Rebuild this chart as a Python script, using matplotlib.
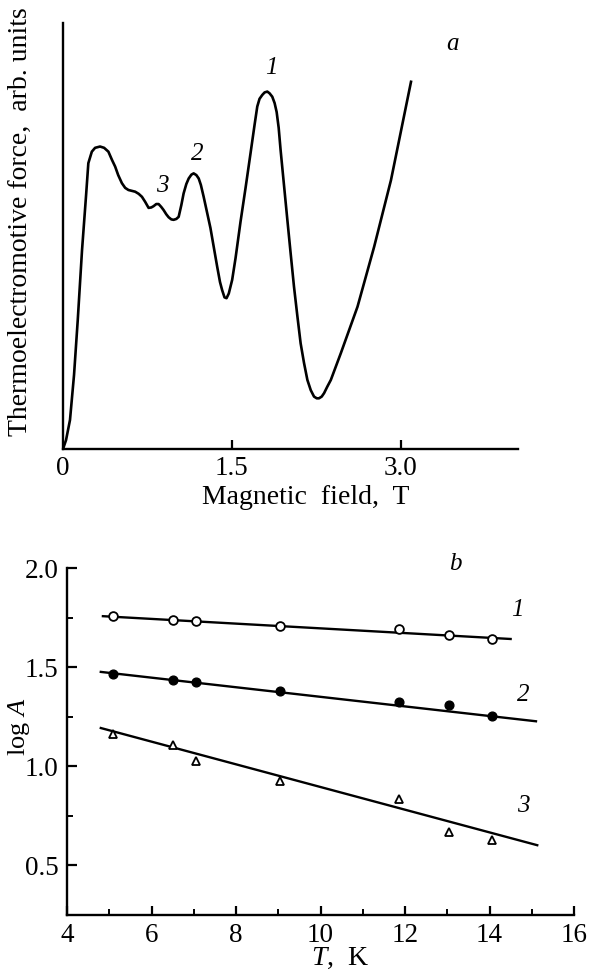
import numpy as np
import matplotlib
matplotlib.use('Agg')
from matplotlib import pyplot as plt

plt.rcParams['font.family'] = ['Liberation Serif', 'DejaVu Serif']
plt.rcParams['mathtext.fontset'] = 'custom'
plt.rcParams['mathtext.rm'] = 'Liberation Serif'
plt.rcParams['mathtext.it'] = 'Liberation Serif:italic'

# panel a: thermo-emf vs magnetic field (arb. units)
field = [0.0, 0.027, 0.062, 0.098, 0.131, 0.169, 0.205, 0.225, 0.256, 0.285,
         0.329, 0.365, 0.403, 0.436, 0.463, 0.49, 0.523, 0.552, 0.581, 0.641,
         0.672, 0.701, 0.73, 0.76, 0.784, 0.804, 0.828, 0.849, 0.873, 0.893,
         0.917, 0.938, 0.962, 0.982, 1.006, 1.027, 1.051, 1.071, 1.095, 1.116,
         1.14, 1.16, 1.184, 1.205, 1.224, 1.249, 1.309, 1.369, 1.394, 1.413,
         1.434, 1.452, 1.472, 1.502, 1.532, 1.576, 1.621, 1.665, 1.701, 1.725,
         1.745, 1.769, 1.79, 1.814, 1.834, 1.858, 1.879, 1.897, 1.915, 1.932,
         1.962, 1.992, 2.021, 2.051, 2.081, 2.11, 2.14, 2.17, 2.2, 2.229,
         2.253, 2.273, 2.297, 2.318, 2.346, 2.378, 2.467, 2.615, 2.763, 2.912,
         3.09]
emf = [0.0, 0.21, 0.68, 1.74, 3.03, 4.67, 5.96, 6.71, 6.98, 7.07,
       7.10, 7.07, 6.98, 6.78, 6.63, 6.43, 6.24, 6.13, 6.08, 6.04,
       5.99, 5.92, 5.80, 5.66, 5.67, 5.70, 5.75, 5.75, 5.68, 5.61,
       5.51, 5.44, 5.39, 5.38, 5.40, 5.45, 5.73, 6.00, 6.22, 6.35,
       6.44, 6.47, 6.43, 6.35, 6.20, 5.92, 5.19, 4.28, 3.92, 3.73,
       3.56, 3.54, 3.65, 3.97, 4.48, 5.33, 6.13, 6.94, 7.61, 8.04,
       8.22, 8.31, 8.37, 8.39, 8.35, 8.27, 8.12, 7.91, 7.54, 7.02,
       6.20, 5.38, 4.60, 3.81, 3.12, 2.48, 2.02, 1.62, 1.38, 1.23,
       1.19, 1.19, 1.23, 1.31, 1.46, 1.62, 2.25, 3.34, 4.75, 6.31,
       8.62]
peak_labels = ['1', '2', '3']
peak_x = [1.85, 1.19, 0.88]
peak_y = [8.94, 6.92, 6.17]

# panel b: log A vs T
T = [5.1, 6.5, 7.05, 9.05, 11.85, 13.05, 14.05]
logA1 = [1.76, 1.74, 1.735, 1.71, 1.69, 1.66, 1.64]
logA2 = [1.466, 1.437, 1.424, 1.378, 1.324, 1.31, 1.252]
logA3 = [1.163, 1.106, 1.029, 0.924, 0.835, 0.667, 0.627]
fit_T1, fit_y1 = [4.85, 14.5], [1.757, 1.642]
fit_T2, fit_y2 = [4.8, 15.1], [1.476, 1.227]
fit_T3, fit_y3 = [4.8, 15.13], [1.193, 0.602]
xticks_b = [4, 6, 8, 10, 12, 14, 16]
yticks_b = [0.5, 1.0, 1.5, 2.0]

fs_tick = 19.5
fs_lab = 20
fig = plt.figure(figsize=(5.92, 9.77), dpi=100)

# ---- panel a
ax1 = fig.add_axes([63/592, 1-449/977, (518-63)/592, (449-23)/977])
ax1.plot(field, emf, color='black', lw=1.9, solid_joinstyle='round')
ax1.set_xlim(0, 4.04)
ax1.set_ylim(0, 10)
for s in ['top', 'right']:
    ax1.spines[s].set_visible(False)
for s in ['left', 'bottom']:
    ax1.spines[s].set_linewidth(1.7)
ax1.set_xticks([0, 1.5, 3.0])
ax1.set_xticklabels(['0', '1.5', '3.0'])
ax1.set_yticks([])
ax1.tick_params(axis='x', direction='in', length=6.5, width=1.6, labelsize=fs_tick, pad=5)
ax1.xaxis.get_major_ticks()[0].tick1line.set_visible(False)
ax1.set_xlabel('Magnetic  field,  T', fontsize=fs_lab)
ax1.xaxis.set_label_coords(0.534, -0.085)
ax1.set_ylabel('Thermoelectromotive force,  arb. units', fontsize=fs_lab)
ax1.yaxis.set_label_coords(-0.066, 0.533)
for lab, x, y in zip(peak_labels, peak_x, peak_y):
    ax1.text(x, y, lab, fontsize=18, style='italic', ha='center', va='center')
ax1.text(3.46, 9.51, 'a', fontsize=18, style='italic', ha='center', va='center')

# ---- panel b
ax2 = fig.add_axes([67/592, 1-915/977, (574-67)/592, (915-568)/977])
ax2.plot(fit_T1, fit_y1, color='black', lw=1.7)
ax2.plot(fit_T2, fit_y2, color='black', lw=1.7)
ax2.plot(fit_T3, fit_y3, color='black', lw=1.7)
ax2.plot(T, logA1, 'o', ms=6.3, mfc='white', mec='black', mew=1.3)
ax2.plot(T, logA2, 'o', ms=6.3, mfc='black', mec='black')
ax2.plot(T, logA3, '^', ms=5.5, mfc='white', mec='black', mew=1.3)
ax2.set_xlim(4, 16)
ax2.set_ylim(0.25, 2.0)
for s in ['top', 'right']:
    ax2.spines[s].set_visible(False)
for s in ['left', 'bottom']:
    ax2.spines[s].set_linewidth(1.7)
ax2.set_xticks(xticks_b)
ax2.set_xticks(np.arange(5, 16, 2), minor=True)
ax2.set_yticks(yticks_b)
ax2.set_yticklabels(['0.5', '1.0', '1.5', '2.0'])
ax2.set_yticks([0.75, 1.25, 1.75], minor=True)
ax2.tick_params(which='major', direction='in', width=1.6, labelsize=fs_tick, pad=6)
ax2.tick_params(axis='x', which='major', length=6.5)
ax2.tick_params(axis='y', which='major', length=7.5)
ax2.tick_params(which='minor', direction='in', length=4.5, width=1.4)
ax2.set_xlabel('$T$,  K', fontsize=fs_lab)
ax2.xaxis.set_label_coords(0.538, -0.088)
ax2.set_ylabel('log $A$', fontsize=19)
ax2.yaxis.set_label_coords(-0.069, 0.542)
ax2.text(14.65, 1.79, '1', fontsize=18, style='italic', ha='center', va='center')
ax2.text(14.8, 1.36, '2', fontsize=18, style='italic', ha='center', va='center')
ax2.text(14.8, 0.80, '3', fontsize=18, style='italic', ha='center', va='center')
ax2.text(13.2, 2.02, 'b', fontsize=18, style='italic', ha='center', va='center')

fig.savefig('out.png', dpi=100)
